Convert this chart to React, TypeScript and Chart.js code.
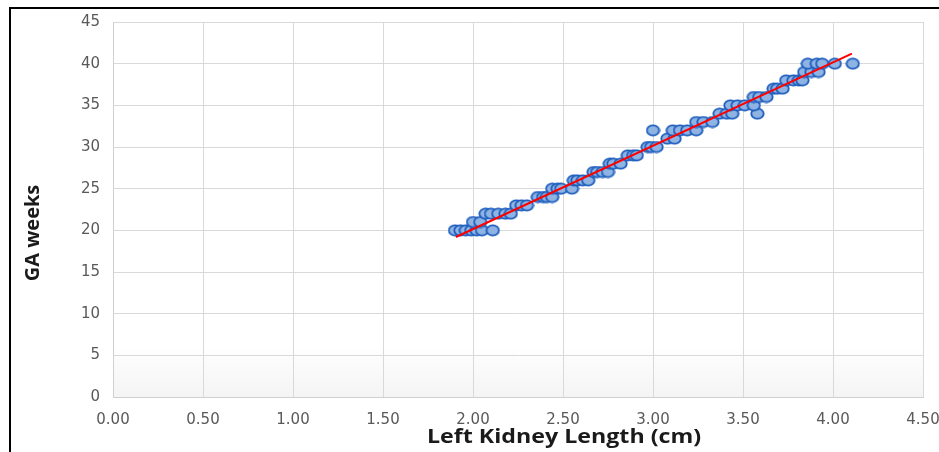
import React, { useEffect, useRef } from "react";
import { Chart, registerables } from "chart.js";

Chart.register(...registerables);

// Left kidney length (cm) and gestational age (weeks) for each observation
const kidneyLength: number[] = [
  1.9, 1.93, 1.96, 1.99, 2.02, 2.05, 2.11,
  2.0, 2.04,
  2.07, 2.1, 2.14, 2.18, 2.21,
  2.24, 2.27, 2.3,
  2.36, 2.39, 2.41, 2.44,
  2.44, 2.47, 2.49, 2.55,
  2.56, 2.58, 2.61, 2.64,
  2.67, 2.69, 2.72, 2.75,
  2.76, 2.78, 2.82,
  2.86, 2.89, 2.91,
  2.97, 2.99, 3.02,
  3.08, 3.12,
  3.0, 3.11, 3.15, 3.19, 3.24,
  3.24, 3.28, 3.33,
  3.37, 3.41, 3.44, 3.58,
  3.43, 3.47, 3.51, 3.56,
  3.56, 3.59, 3.63,
  3.67, 3.69, 3.72,
  3.74, 3.78, 3.81, 3.83,
  3.84, 3.88, 3.92,
  3.86, 3.91, 3.94, 4.01, 4.11,
];
const gaWeeks: number[] = [
  20, 20, 20, 20, 20, 20, 20,
  21, 21,
  22, 22, 22, 22, 22,
  23, 23, 23,
  24, 24, 24, 24,
  25, 25, 25, 25,
  26, 26, 26, 26,
  27, 27, 27, 27,
  28, 28, 28,
  29, 29, 29,
  30, 30, 30,
  31, 31,
  32, 32, 32, 32, 32,
  33, 33, 33,
  34, 34, 34, 34,
  35, 35, 35, 35,
  36, 36, 36,
  37, 37, 37,
  38, 38, 38, 38,
  39, 39, 39,
  40, 40, 40, 40, 40,
];

// Linear trend line end points
const trendX: number[] = [1.905, 4.105];
const trendY: number[] = [19.2, 41.2];

const xTicks: number[] = [0, 0.5, 1, 1.5, 2, 2.5, 3, 3.5, 4, 4.5];
const yTicks: number[] = [0, 5, 10, 15, 20, 25, 30, 35, 40, 45];

const xTitle = "Left Kidney Length (cm)";
const yTitle = "GA weeks";

function makeMarker(): HTMLCanvasElement {
  const c = document.createElement("canvas");
  c.width = 15;
  c.height = 13;
  const g = c.getContext("2d")!;
  g.beginPath();
  g.ellipse(7.5, 6.5, 6.2, 5.2, 0, 0, Math.PI * 2);
  g.fillStyle = "#8fb4e3";
  g.fill();
  g.lineWidth = 1.8;
  g.strokeStyle = "#1c5cbd";
  g.stroke();
  return c;
}

export default function App() {
  const ref = useRef<HTMLCanvasElement | null>(null);

  useEffect(() => {
    document.body.style.margin = "0";
    const canvas = ref.current;
    if (!canvas) return;

    const decor = {
      id: "decor",
      beforeDraw(chart: any) {
        const { ctx, chartArea } = chart;
        ctx.save();
        ctx.fillStyle = "#ffffff";
        ctx.fillRect(0, 0, chart.width, chart.height);
        // frame lines
        ctx.fillStyle = "#000000";
        ctx.fillRect(9, 7, 2, chart.height);
        ctx.fillRect(9, 7, chart.width, 2);
        // subtle gradient at plot bottom
        const h = 50;
        const g = ctx.createLinearGradient(0, chartArea.bottom - h, 0, chartArea.bottom);
        g.addColorStop(0, "rgba(244,244,244,0)");
        g.addColorStop(1, "rgba(244,244,244,1)");
        ctx.fillStyle = g;
        ctx.fillRect(chartArea.left, chartArea.bottom - h, chartArea.right - chartArea.left, h);
        ctx.restore();
      },
      afterDraw(chart: any) {
        const { ctx } = chart;
        ctx.save();
        ctx.fillStyle = "#1a1a1a";
        ctx.font = "bold 20px 'Open Sans'";
        ctx.textAlign = "center";
        ctx.textBaseline = "middle";
        ctx.save();
        ctx.translate(564, 437);
        ctx.scale(1.16, 1);
        ctx.fillText(xTitle, 0, 0);
        ctx.restore();
        ctx.save();
        ctx.translate(33, 233);
        ctx.rotate(-Math.PI / 2);
        ctx.fillText(yTitle, 0, 0);
        ctx.restore();
        ctx.restore();
      },
    };

    const marker = makeMarker();

    const chart = new Chart(canvas, {
      type: "scatter",
      data: {
        datasets: [
          {
            type: "line",
            label: "Trend",
            data: trendX.map((x, i) => ({ x, y: trendY[i] })),
            borderColor: "#ff0000",
            borderWidth: 2,
            pointRadius: 0,
            fill: false,
            order: 0,
          } as any,
          {
            label: "Observations",
            data: kidneyLength.map((x, i) => ({ x, y: gaWeeks[i] })),
            pointStyle: marker,
            backgroundColor: "#8fb4e3",
            borderColor: "#1c5cbd",
            pointRadius: 6,
            order: 1,
          },
        ],
      },
      plugins: [decor],
      options: {
        animation: false,
        responsive: false,
        maintainAspectRatio: false,
        layout: { padding: { left: 0, top: 20, right: 37, bottom: 0 } },
        plugins: {
          legend: { display: false },
          tooltip: { enabled: false },
        },
        scales: {
          x: {
            type: "linear",
            min: 0,
            max: 4.5,
            afterBuildTicks: (s: any) => {
              s.ticks = xTicks.map((v) => ({ value: v }));
            },
            afterFit: (s: any) => {
              s.height = 55;
            },
            ticks: {
              padding: 14,
              color: "#595959",
              font: { family: "'DejaVu Sans'", size: 15 },
              callback: (v: any) => Number(v).toFixed(2),
            },
            grid: { color: "#d9d9d9", lineWidth: 1, drawTicks: false },
            border: { color: "#d0d0d0" },
          },
          y: {
            type: "linear",
            min: 0,
            max: 45,
            afterBuildTicks: (s: any) => {
              s.ticks = yTicks.map((v) => ({ value: v }));
            },
            afterFit: (s: any) => {
              s.width = 113;
            },
            ticks: {
              padding: 13,
              color: "#595959",
              font: { family: "'DejaVu Sans'", size: 15 },
            },
            grid: { color: "#d9d9d9", lineWidth: 1, drawTicks: false },
            border: { color: "#d0d0d0" },
          },
        },
      },
    });
    return () => chart.destroy();
  }, []);

  return (
    <div style={{ width: 939, height: 452, overflow: "hidden", position: "relative" }}>
      <canvas ref={ref} width={960} height={452} style={{ display: "block", width: 960, height: 452 }} />
    </div>
  );
}
